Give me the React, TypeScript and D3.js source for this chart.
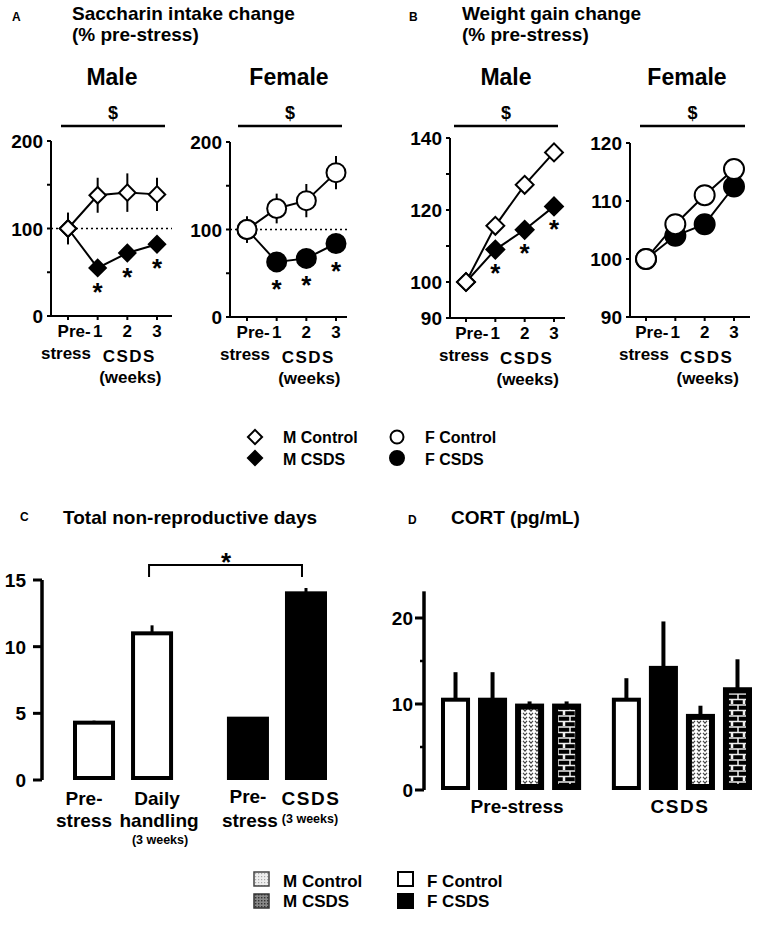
import React from "react";
import * as d3 from "d3";

const FONT = "'Liberation Sans', Arial, Helvetica, sans-serif";

// ---------- Data ----------
const weekLabels = ["Pre-", "1", "2", "3"];

const saccMaleControl = [100, 138, 141, 139];
const saccMaleControlErr = [18, 20, 22, 19];
const saccMaleCSDS = [100, 55, 72, 82];
const saccMaleCSDSErr = [18, 5, 5, 9];
const saccMaleStars = [false, true, true, true];

const saccFemaleControl = [100, 124, 133, 165];
const saccFemaleControlErr = [15, 17, 19, 19];
const saccFemaleCSDS = [100, 63, 67, 84];
const saccFemaleCSDSErr = [15, 5, 5, 7];
const saccFemaleStars = [false, true, true, true];

const weightMaleControl = [100, 115.6, 127, 136];
const weightMaleCSDS = [100, 109, 114.5, 121];
const weightMaleStars = [false, true, true, true];

const weightFemaleControl = [100, 106, 111, 115.5];
const weightFemaleCSDS = [100, 104, 106, 112.5];
const weightFemaleStars = [false, false, false, false];

const saccTicks = [0, 100, 200];
const saccMinorTicks = [50, 150];
const weightMaleTicks = [90, 100, 120, 140];
const weightMaleMinorTicks = [110, 130];
const weightFemaleTicks = [90, 100, 110, 120];

const nrdCategories = ["Pre-stress", "Daily handling", "Pre-stress CSDS", "CSDS"];
const nrdGroups = ["Control", "CSDS"];
const nrdValues = [4.3, 11.0, 4.6, 14.0];
const nrdErr = [0.15, 0.6, 0.1, 0.4];
const nrdTicks = [0, 5, 10, 15];

const cortGroups = ["Pre-stress", "CSDS"];
const cortSeries = ["F Control", "F CSDS", "M Control", "M CSDS"];
const cortPre = [10.5, 10.5, 9.7, 9.7];
const cortPreErr = [3.2, 3.2, 0.6, 0.6];
const cortCSDS = [10.5, 14.2, 8.5, 11.6];
const cortCSDSErr = [2.5, 5.4, 1.3, 3.6];
const cortTicks = [0, 10, 20];
const cortMinorTicks = [5, 15];

// ---------- Helpers ----------
const diamondPath = (size: number) => d3.symbol().type(d3.symbolSquare).size(size)() as string;

type LineProps = {
  axisX: number; axisEnd: number; x0: number; x3: number;
  yDomain: [number, number]; yRange: [number, number];
  ticks: number[]; minor: number[];
  title: string; titleX: number; dollar: [number, number];
  control: number[]; controlErr?: number[]; csds: number[]; csdsErr?: number[];
  stars: boolean[]; marker: "diamond" | "circle"; markerSize: number; dotted?: number;
  starOffset: number;
};

function LinePanel(p: LineProps) {
  const x = d3.scaleLinear().domain([0, 3]).range([p.x0, p.x3]);
  const y = d3.scaleLinear().domain(p.yDomain).range(p.yRange);
  const line = d3.line<number>().x((_, i) => x(i)).y((d) => y(d));
  const idx = d3.range(weekLabels.length);
  const yTop = y(p.yDomain[1]);
  const yBot = y(p.yDomain[0]);
  const mark = (v: number, i: number, filled: boolean, key: string) =>
    p.marker === "diamond" ? (
      <path key={key} d={diamondPath(p.markerSize)} transform={`translate(${x(i)},${y(v)}) rotate(45)`}
        fill={filled ? "#000" : "#fff"} stroke="#000" strokeWidth={2} />
    ) : (
      <circle key={key} cx={x(i)} cy={y(v)} r={p.markerSize} fill={filled ? "#000" : "#fff"} stroke="#000" strokeWidth={2} />
    );
  return (
    <g fontFamily={FONT} fontWeight="bold">
      <text x={p.titleX} y={85} textAnchor="middle" fontSize={23}>{p.title}</text>
      <text x={(p.dollar[0] + p.dollar[1]) / 2} y={119} textAnchor="middle" fontSize={18}>$</text>
      <line x1={p.dollar[0]} x2={p.dollar[1]} y1={126} y2={126} stroke="#000" strokeWidth={2.5} />
      {/* axes */}
      <path d={`M${p.axisX},${yTop}V${yBot}H${p.axisEnd}`} fill="none" stroke="#000" strokeWidth={2} />
      {p.ticks.map((t) => (
        <g key={"t" + t}>
          <line x1={p.axisX - 4} x2={p.axisX} y1={y(t)} y2={y(t)} stroke="#000" strokeWidth={2} />
          <text x={p.axisX - 8} y={y(t) + 7} textAnchor="end" fontSize={19}>{t}</text>
        </g>
      ))}
      {p.minor.map((t) => (
        <line key={"m" + t} x1={p.axisX - 4} x2={p.axisX} y1={y(t)} y2={y(t)} stroke="#000" strokeWidth={2} />
      ))}
      {idx.map((i) => (
        <line key={"xt" + i} x1={x(i)} x2={x(i)} y1={yBot} y2={yBot + 4} stroke="#000" strokeWidth={2} />
      ))}
      {/* x labels */}
      <text x={x(1) - 7} y={yBot + 21} textAnchor="end" fontSize={17}>{weekLabels[0]}</text>
      {[1, 2, 3].map((i) => (
        <text key={"xl" + i} x={x(i)} y={yBot + 21} textAnchor="middle" fontSize={17}>{weekLabels[i]}</text>
      ))}
      <text x={x(0) - 2} y={yBot + 43} textAnchor="middle" fontSize={17}>stress</text>
      <text x={(x(1) + x(3)) / 2 + 2} y={yBot + 46} textAnchor="middle" fontSize={17} letterSpacing={1.5}>CSDS</text>
      <text x={(x(1) + x(3)) / 2 + 3} y={yBot + 67} textAnchor="middle" fontSize={17}>(weeks)</text>
      {p.dotted !== undefined && (
        <line x1={p.axisX} x2={p.axisEnd} y1={y(p.dotted)} y2={y(p.dotted)} stroke="#000" strokeWidth={1.3} strokeDasharray="2,3" />
      )}
      {/* error bars */}
      {p.csdsErr && idx.map((i) => (
        <line key={"ce" + i} x1={x(i)} x2={x(i)} y1={y(p.csds[i] - p.csdsErr![i])} y2={y(p.csds[i] + p.csdsErr![i])} stroke="#000" strokeWidth={2} />
      ))}
      {p.controlErr && idx.map((i) => (
        <line key={"oe" + i} x1={x(i)} x2={x(i)} y1={y(p.control[i] - p.controlErr![i])} y2={y(p.control[i] + p.controlErr![i])} stroke="#000" strokeWidth={2} />
      ))}
      <path d={line(p.csds) as string} fill="none" stroke="#000" strokeWidth={2} />
      {p.csds.map((v, i) => mark(v, i, true, "cm" + i))}
      <path d={line(p.control) as string} fill="none" stroke="#000" strokeWidth={2} />
      {p.control.map((v, i) => mark(v, i, false, "om" + i))}
      {p.stars.map((s, i) => s ? (
        <text key={"s" + i} x={x(i)} y={y(p.csds[i]) + p.starOffset} textAnchor="middle" fontSize={26}>*</text>
      ) : null)}
    </g>
  );
}

export default function App() {
  // Panel C scales
  const cGroup = d3.scaleBand<string>().domain(nrdGroups).range([73, 327]).paddingInner(0.35);
  const cInner = d3.scaleBand<number>().domain([0, 1]).range([0, cGroup.bandwidth()]).paddingInner(0.276);
  const cY = d3.scaleLinear().domain([0, 15]).range([780, 580]);
  const cX = (i: number) => (cGroup(nrdGroups[Math.floor(i / 2)]) as number) + (cInner(i % 2) as number);
  const cFill = ["#fff", "#fff", "#000", "#000"];

  // Panel D scales
  const dGroup = d3.scaleBand<string>().domain(cortGroups).range([441, 752]).paddingInner(0.18);
  const dInner = d3.scaleBand<string>().domain(cortSeries).range([0, dGroup.bandwidth()]).paddingInner(0.216);
  const dY = d3.scaleLinear().domain([0, 20]).range([790, 618]);
  const cortData = [cortPre, cortCSDS];
  const cortErr = [cortPreErr, cortCSDSErr];
  const dFill: Record<string, string> = {
    "F Control": "#fff", "F CSDS": "#000", "M Control": "url(#vpat)", "M CSDS": "url(#brick)",
  };
  const dStroke: Record<string, number> = { "F Control": 4, "F CSDS": 4, "M Control": 6, "M CSDS": 6 };

  return (
    <svg width={760} height={925} style={{ position: "absolute", left: 0, top: 0, background: "#fff" }}>
      <defs>
        <pattern id="vpat" patternUnits="userSpaceOnUse" width={6} height={4}>
          <rect width={6} height={4} fill="#fff" />
          <path d="M1,0.8 L3,3.2 L5,0.8" fill="none" stroke="#444" strokeWidth={1.1} />
        </pattern>
        <pattern id="brick" patternUnits="userSpaceOnUse" width={12} height={11}>
          <rect width={12} height={11} fill="#000" />
          <line x1={0} x2={12} y1={1} y2={1} stroke="#eee" strokeWidth={1.5} />
          <line x1={0} x2={12} y1={6.5} y2={6.5} stroke="#eee" strokeWidth={1.5} />
          <line x1={6} x2={6} y1={1} y2={6.5} stroke="#eee" strokeWidth={1.5} />
          <line x1={0.5} x2={0.5} y1={6.5} y2={12} stroke="#eee" strokeWidth={1.5} />
          <line x1={11.5} x2={11.5} y1={6.5} y2={12} stroke="#eee" strokeWidth={1.5} />
        </pattern>
        <pattern id="lightdots" patternUnits="userSpaceOnUse" width={3} height={3}>
          <rect width={3} height={3} fill="#eee" />
          <rect width={1.2} height={1.2} fill="#aaa" />
        </pattern>
        <pattern id="darkdots" patternUnits="userSpaceOnUse" width={3} height={3}>
          <rect width={3} height={3} fill="#888" />
          <rect width={1.4} height={1.4} fill="#333" />
        </pattern>
      </defs>

      {/* Titles A & B */}
      <g fontFamily={FONT} fontWeight="bold">
        <text x={12} y={21} fontSize={12}>A</text>
        <text x={72} y={20} fontSize={19}>Saccharin intake change</text>
        <text x={72} y={41} fontSize={19}>(% pre-stress)</text>
        <text x={409} y={21} fontSize={12}>B</text>
        <text x={462} y={20} fontSize={19}>Weight gain change</text>
        <text x={462} y={41} fontSize={19}>(% pre-stress)</text>
      </g>

      <LinePanel axisX={51} axisEnd={172} x0={68} x3={157} yDomain={[0, 200]} yRange={[316, 141]}
        ticks={saccTicks} minor={saccMinorTicks} title="Male" titleX={112} dollar={[61, 165]}
        control={saccMaleControl} controlErr={saccMaleControlErr} csds={saccMaleCSDS} csdsErr={saccMaleCSDSErr}
        stars={saccMaleStars} marker="diamond" markerSize={135} dotted={100} starOffset={33} />
      <LinePanel axisX={230} axisEnd={347} x0={247} x3={336} yDomain={[0, 200]} yRange={[317, 142]}
        ticks={saccTicks} minor={saccMinorTicks} title="Female" titleX={289} dollar={[238, 342]}
        control={saccFemaleControl} controlErr={saccFemaleControlErr} csds={saccFemaleCSDS} csdsErr={saccFemaleCSDSErr}
        stars={saccFemaleStars} marker="circle" markerSize={9.5} dotted={100} starOffset={36} />
      <LinePanel axisX={450} axisEnd={565} x0={466} x3={554} yDomain={[90, 140]} yRange={[318, 138]}
        ticks={weightMaleTicks} minor={weightMaleMinorTicks} title="Male" titleX={506} dollar={[454, 558]}
        control={weightMaleControl} csds={weightMaleCSDS}
        stars={weightMaleStars} marker="diamond" markerSize={160} starOffset={32} />
      <LinePanel axisX={630} axisEnd={750} x0={646} x3={734} yDomain={[90, 120]} yRange={[317, 143]}
        ticks={weightFemaleTicks} minor={[]} title="Female" titleX={687} dollar={[640, 745]}
        control={weightFemaleControl} csds={weightFemaleCSDS}
        stars={weightFemaleStars} marker="circle" markerSize={10} starOffset={32} />

      {/* Legend 1 */}
      <g fontFamily={FONT} fontWeight="bold" fontSize={16}>
        <path d={diamondPath(100)} transform="translate(255,437) rotate(45)" fill="#fff" stroke="#000" strokeWidth={2} />
        <text x={283} y={443}>M Control</text>
        <path d={diamondPath(100)} transform="translate(255,458) rotate(45)" fill="#000" stroke="#000" strokeWidth={2} />
        <text x={283} y={465}>M CSDS</text>
        <circle cx={397} cy={437} r={6.5} fill="#fff" stroke="#000" strokeWidth={2} />
        <text x={425} y={443}>F Control</text>
        <circle cx={397} cy={458} r={7} fill="#000" stroke="#000" strokeWidth={2} />
        <text x={425} y={465}>F CSDS</text>
      </g>

      {/* Panel C */}
      <g fontFamily={FONT} fontWeight="bold">
        <text x={20} y={521} fontSize={12}>C</text>
        <text x={63} y={524} fontSize={19}>Total non-reproductive days</text>
        <path d={`M42,${cY(15)}V${cY(0)}`} stroke="#000" strokeWidth={3.5} fill="none" />
        {nrdTicks.map((t) => (
          <g key={"ct" + t}>
            <line x1={33} x2={42} y1={cY(t)} y2={cY(t)} stroke="#000" strokeWidth={3} />
            <text x={26} y={cY(t) + 7} textAnchor="end" fontSize={19}>{t}</text>
          </g>
        ))}
        {nrdValues.map((v, i) => {
          const bx = cX(i);
          const bw = cInner.bandwidth();
          return (
            <g key={"cb" + i}>
              <line x1={bx + bw / 2} x2={bx + bw / 2} y1={cY(v)} y2={cY(v + nrdErr[i])} stroke="#000" strokeWidth={3} />
              <rect x={bx + 2} y={cY(v)} width={bw - 4} height={cY(0) - cY(v) - 2} fill={cFill[i]} stroke="#000" strokeWidth={4} />
            </g>
          );
        })}
        <path d={`M${cX(1) + cInner.bandwidth() / 2 - 3},577V565H${cX(3) + cInner.bandwidth() / 2 - 4}V577`} fill="none" stroke="#000" strokeWidth={2} />
        <text x={226} y={571} textAnchor="middle" fontSize={26}>*</text>
        {/* x labels */}
        <text x={cX(0) + 20 - 9} y={805} textAnchor="middle" fontSize={19}>Pre-</text>
        <text x={cX(0) + 20 - 9} y={827} textAnchor="middle" fontSize={19}>stress</text>
        <text x={cX(1) + 21 + 5} y={805} textAnchor="middle" fontSize={19}>Daily</text>
        <text x={cX(1) + 21 + 7} y={827} textAnchor="middle" fontSize={19}>handling</text>
        <text x={cX(1) + 21 + 8} y={844} textAnchor="middle" fontSize={12.5}>(3 weeks)</text>
        <text x={cX(2) + 21} y={803} textAnchor="middle" fontSize={19}>Pre-</text>
        <text x={cX(2) + 21 + 2} y={827} textAnchor="middle" fontSize={19}>stress</text>
        <text x={cX(3) + 21 + 5} y={805} textAnchor="middle" fontSize={19} letterSpacing={1.5}>CSDS</text>
        <text x={cX(3) + 21 + 4} y={823} textAnchor="middle" fontSize={12.5}>(3 weeks)</text>
      </g>

      {/* Panel D */}
      <g fontFamily={FONT} fontWeight="bold">
        <text x={408} y={524} fontSize={12}>D</text>
        <text x={451} y={524} fontSize={19}>CORT (pg/mL)</text>
        <path d={`M424,${dY(23.1)}V${dY(0)}`} stroke="#000" strokeWidth={3.5} fill="none" />
        {cortTicks.map((t) => (
          <g key={"dt" + t}>
            <line x1={415} x2={424} y1={dY(t)} y2={dY(t)} stroke="#000" strokeWidth={3} />
            <text x={413} y={dY(t) + 7} textAnchor="end" fontSize={19}>{t}</text>
          </g>
        ))}
        {cortMinorTicks.map((t) => (
          <line key={"dm" + t} x1={420} x2={424} y1={dY(t)} y2={dY(t)} stroke="#000" strokeWidth={2.5} />
        ))}
        {cortGroups.map((g, gi) => (
          <g key={g}>
            {cortSeries.map((s, si) => {
              const bx = (dGroup(g) as number) + (dInner(s) as number);
              const bw = dInner.bandwidth();
              const v = cortData[gi][si];
              const e = cortErr[gi][si];
              const sw = dStroke[s];
              return (
                <g key={s}>
                  <line x1={bx + bw / 2} x2={bx + bw / 2} y1={dY(v)} y2={dY(v + e)} stroke="#000" strokeWidth={4} />
                  <rect x={bx + sw / 2} y={dY(v)} width={bw - sw} height={dY(0) - dY(v) - sw / 2} fill={dFill[s]} stroke="#000" strokeWidth={sw} />
                </g>
              );
            })}
            <text x={(dGroup(g) as number) + dGroup.bandwidth() / 2 + (g === "CSDS" ? -2 : 6)} y={813} textAnchor="middle" fontSize={19}
              letterSpacing={g === "CSDS" ? 1.5 : 0}>{g}</text>
          </g>
        ))}
      </g>

      {/* Legend 2 */}
      <g fontFamily={FONT} fontWeight="bold" fontSize={17}>
        <rect x={254} y={872} width={15} height={14} fill="url(#lightdots)" stroke="#444" strokeWidth={1.5} />
        <text x={283} y={887}>M Control</text>
        <rect x={254} y={894} width={15} height={14} fill="url(#darkdots)" stroke="#333" strokeWidth={1.5} />
        <text x={283} y={907}>M CSDS</text>
        <rect x={398} y={872} width={15} height={14} fill="#fff" stroke="#000" strokeWidth={2} />
        <text x={427} y={887}>F Control</text>
        <rect x={398} y={894} width={15} height={14} fill="#000" stroke="#000" strokeWidth={2} />
        <text x={427} y={907}>F CSDS</text>
      </g>
    </svg>
  );
}
